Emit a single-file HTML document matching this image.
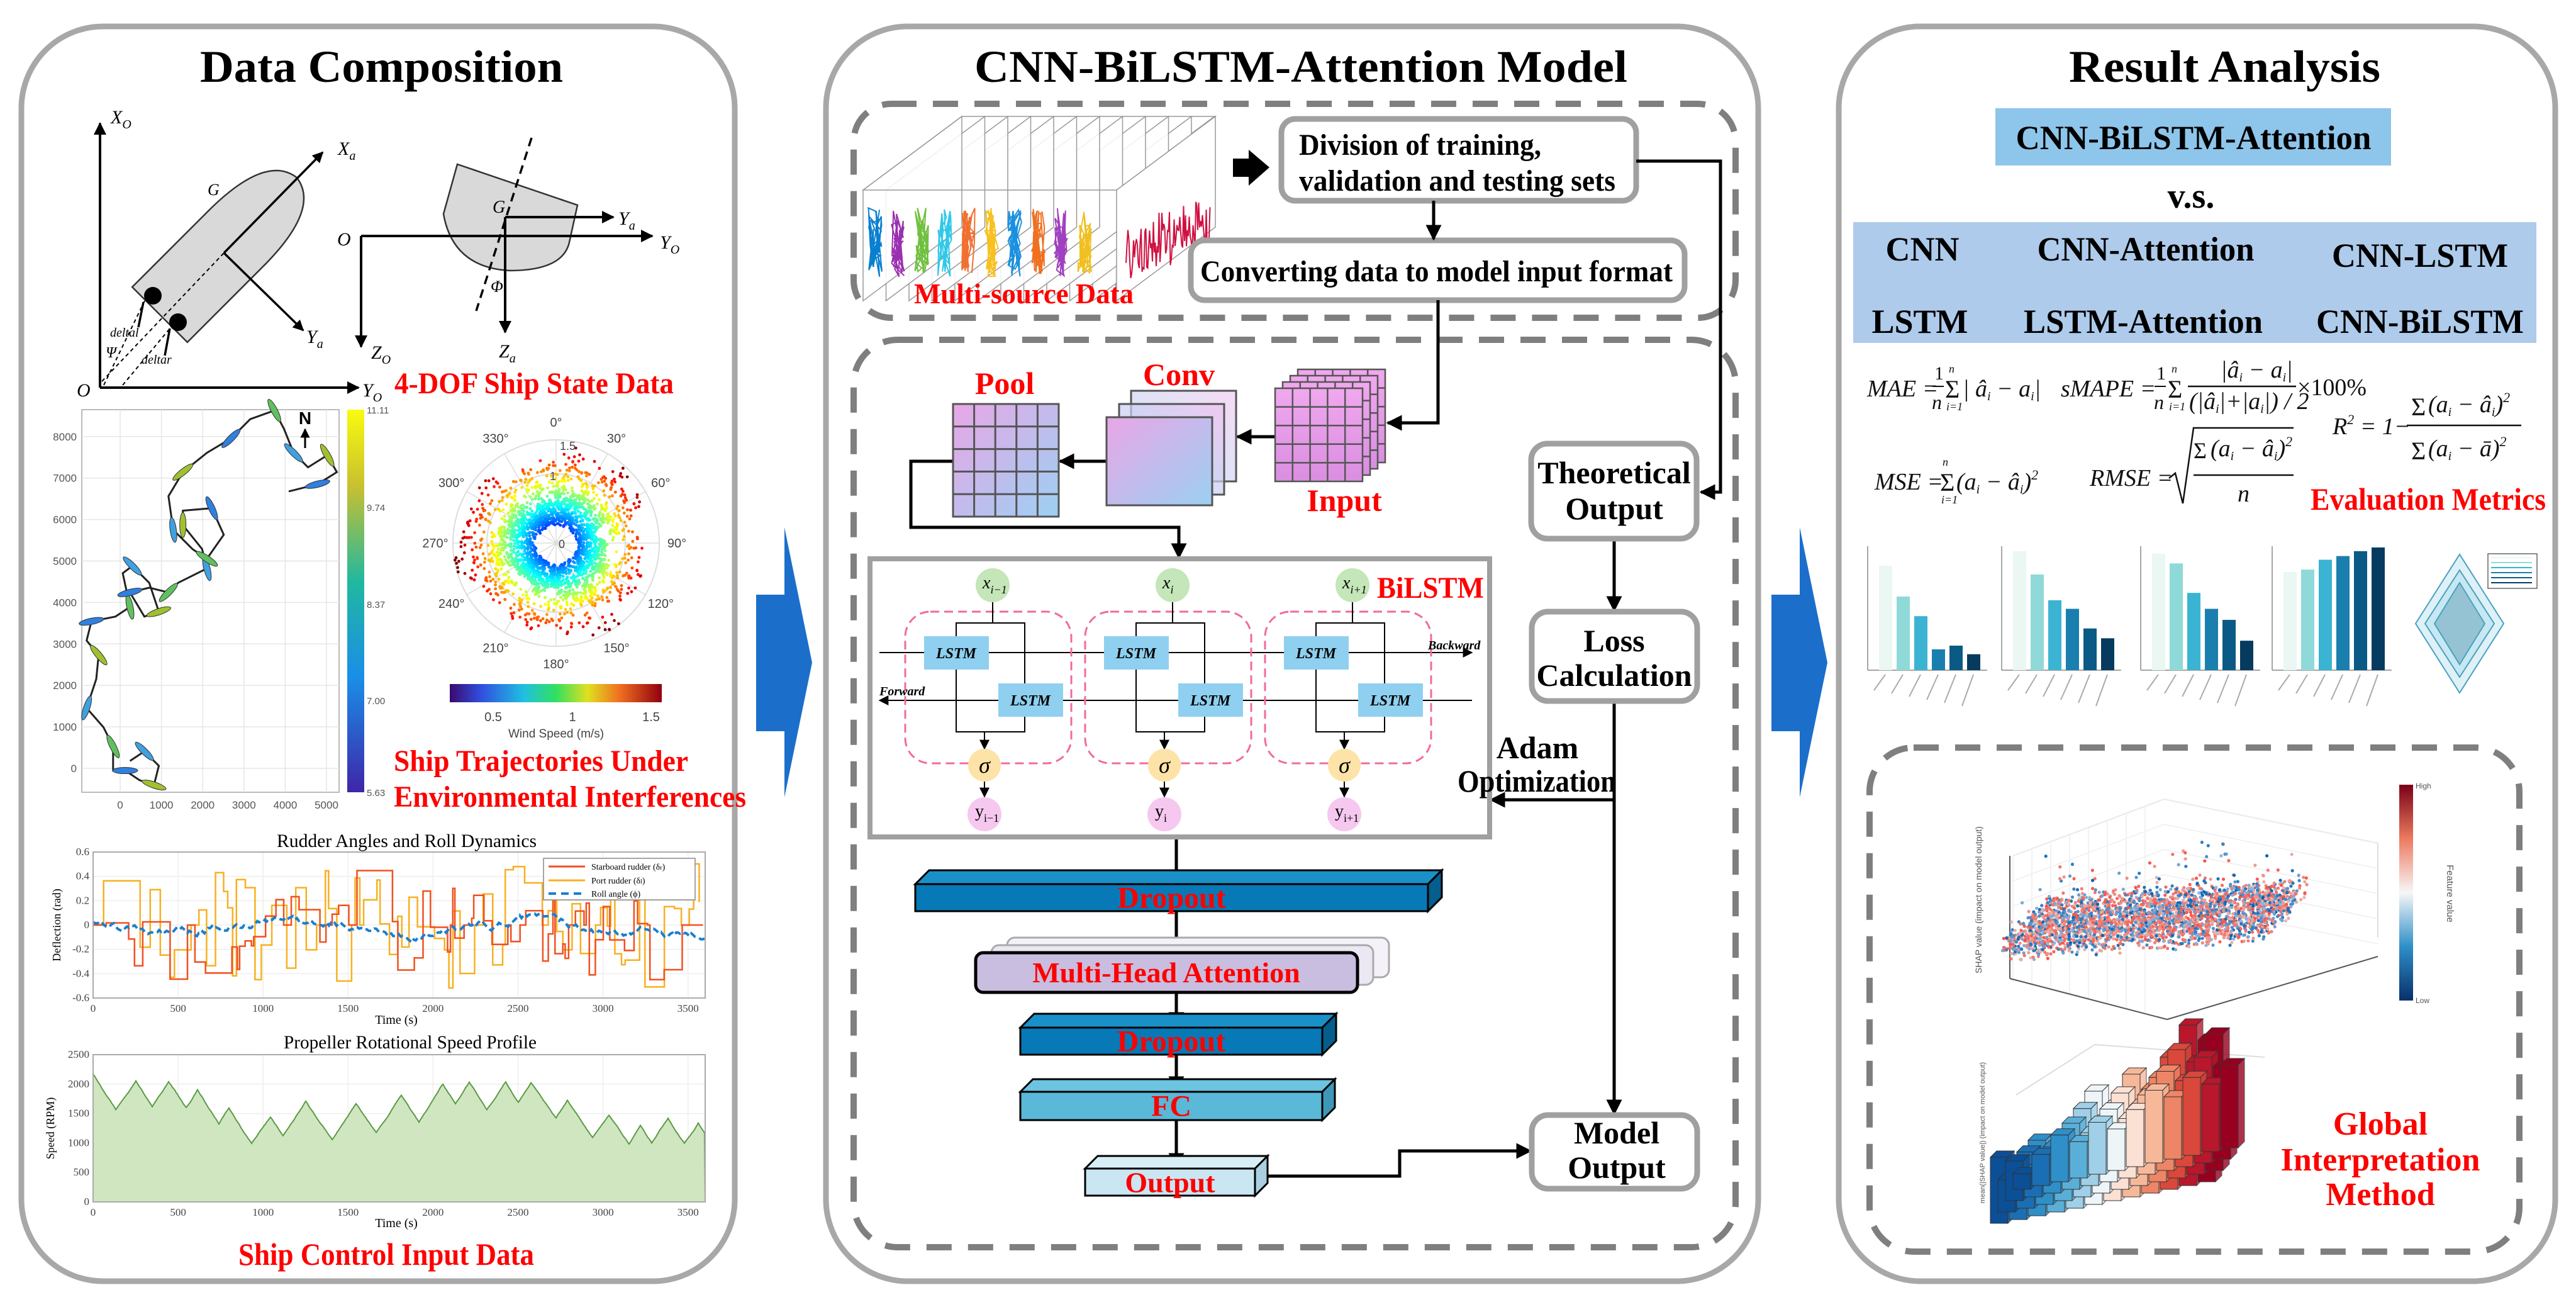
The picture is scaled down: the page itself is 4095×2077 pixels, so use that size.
<!DOCTYPE html>
<html><head><meta charset="utf-8"><style>
html,body{margin:0;padding:0;background:#fff;}
svg{display:block;}
.t{font-family:"Liberation Serif",serif;font-weight:bold;}
.r{fill:#ff0000;}
.m{font-family:"Liberation Serif",serif;font-style:italic;}
.s{font-family:"Liberation Sans",sans-serif;}
</style></head><body>
<svg id="sv" xmlns="http://www.w3.org/2000/svg" width="4095" height="2077" viewBox="0 0 4095 2077">
<defs>
<marker id="ah" viewBox="0 0 10 10" refX="9" refY="5" markerWidth="5" markerHeight="5" orient="auto"><path d="M0,0 L10,5 L0,10 z" fill="#000"/></marker>
<marker id="ahs" viewBox="0 0 10 10" refX="9" refY="5" markerWidth="8" markerHeight="8" orient="auto"><path d="M0,0 L10,5 L0,10 z" fill="#000"/></marker>
<linearGradient id="gp" x1="0" y1="0" x2="1" y2="1"><stop offset="0" stop-color="#e9a6e6"/><stop offset="1" stop-color="#9cd0f2"/></linearGradient>
<linearGradient id="gc" x1="1" y1="0" x2="0" y2="1"><stop offset="0" stop-color="#efc2ee"/><stop offset="1" stop-color="#a6dcf5"/></linearGradient>
<linearGradient id="gi" x1="0" y1="0" x2="0" y2="1"><stop offset="0" stop-color="#f0a8ee"/><stop offset="1" stop-color="#d98ee0"/></linearGradient>
<linearGradient id="jet" x1="0" y1="0" x2="1" y2="0"><stop offset="0" stop-color="#3a0a6e"/><stop offset="0.15" stop-color="#3050e0"/><stop offset="0.35" stop-color="#20c0e0"/><stop offset="0.5" stop-color="#30e060"/><stop offset="0.65" stop-color="#e0e020"/><stop offset="0.8" stop-color="#f07020"/><stop offset="1" stop-color="#900010"/></linearGradient>
<linearGradient id="parula" x1="0" y1="1" x2="0" y2="0"><stop offset="0" stop-color="#3e26a8"/><stop offset="0.3" stop-color="#1a8ee8"/><stop offset="0.55" stop-color="#20b8a0"/><stop offset="0.8" stop-color="#c8c030"/><stop offset="1" stop-color="#f9fb0e"/></linearGradient>
<linearGradient id="rdbu" x1="0" y1="1" x2="0" y2="0"><stop offset="0" stop-color="#08306b"/><stop offset="0.25" stop-color="#2f8fc8"/><stop offset="0.5" stop-color="#f7f7f7"/><stop offset="0.75" stop-color="#ec7a5e"/><stop offset="1" stop-color="#7a0018"/></linearGradient>
</defs>

<rect x="34" y="42" width="1134" height="1994" rx="130" fill="none" stroke="#a8a8a8" stroke-width="9"/>
<rect x="1313" y="42" width="1482" height="1994" rx="130" fill="none" stroke="#a8a8a8" stroke-width="9"/>
<rect x="2923" y="42" width="1139" height="1994" rx="130" fill="none" stroke="#a8a8a8" stroke-width="9"/>

<polygon points="1202,945 1247,945 1247,838 1291,1053 1247,1267 1247,1162 1202,1162" fill="#1b6fcb"/>
<polygon points="2816,945 2861,945 2861,838 2905,1053 2861,1267 2861,1162 2816,1162" fill="#1b6fcb"/>

<text class="t" x="318" y="130" font-size="72" textLength="577" lengthAdjust="spacingAndGlyphs">Data Composition</text>
<text class="t" x="1549" y="130" font-size="72" textLength="1038" lengthAdjust="spacingAndGlyphs">CNN-BiLSTM-Attention Model</text>
<text class="t" x="3289" y="130" font-size="72" textLength="495" lengthAdjust="spacingAndGlyphs">Result Analysis</text>

<!-- LEFT -->
<g stroke="#000" stroke-width="4" fill="none">
<line x1="159" y1="616" x2="159" y2="196" marker-end="url(#ah)"/>
<line x1="159" y1="616" x2="570" y2="616" marker-end="url(#ah)"/>
</g>
<path d="M0,-62 L170,-62 Q300,-62 308,0 Q300,62 170,62 L0,62 Z" transform="translate(254,500) rotate(-45)" fill="#d9d9d9" stroke="#333" stroke-width="2.5"/>
<g stroke="#000" stroke-width="3.5" fill="none">
<line x1="356" y1="402" x2="513" y2="242" marker-end="url(#ah)"/>
<line x1="356" y1="402" x2="482" y2="525" marker-end="url(#ah)"/>
<line x1="228" y1="480" x2="220" y2="520"/><line x1="270" y1="522" x2="262" y2="565"/>
</g>
<g stroke="#000" stroke-width="2" stroke-dasharray="6 5" fill="none">
<line x1="162" y1="606" x2="356" y2="402"/><line x1="165" y1="612" x2="230" y2="478"/><line x1="195" y1="612" x2="270" y2="522"/>
</g>
<circle cx="243" cy="470" r="14"/><circle cx="283" cy="512" r="14"/>
<g class="m" font-size="30">
<text x="176" y="196">X<tspan font-size="20" dy="8">O</tspan></text>
<text x="537" y="246">X<tspan font-size="20" dy="8">a</tspan></text>
<text x="487" y="545">Y<tspan font-size="20" dy="8">a</tspan></text>
<text x="122" y="630">O</text>
<text x="576" y="630">Y<tspan font-size="20" dy="8">O</tspan></text>
<text x="330" y="310" font-size="26">G</text>
<text x="175" y="535" font-size="20">deltal</text>
<text x="225" y="578" font-size="20">deltar</text>
<text x="168" y="568" font-size="24">Ψ</text>
</g>
<path d="M727,261 L918,326 L905,385 Q895,430 810,430 Q720,425 705,340 Z" fill="#d9d9d9" stroke="#333" stroke-width="2.5"/>
<g stroke="#000" stroke-width="4" fill="none">
<line x1="574" y1="375" x2="1037" y2="375" marker-end="url(#ah)"/>
<line x1="574" y1="375" x2="574" y2="551" marker-end="url(#ah)"/>
<line x1="803" y1="345" x2="975" y2="345" marker-end="url(#ah)"/>
<line x1="803" y1="345" x2="803" y2="528" marker-end="url(#ah)"/>
<line x1="845" y1="219" x2="757" y2="494" stroke-dasharray="14 9" stroke-width="3.5"/>
</g>
<g class="m" font-size="30">
<text x="783" y="338" font-size="28">G</text>
<text x="983" y="357">Y<tspan font-size="20" dy="8">a</tspan></text>
<text x="1049" y="395">Y<tspan font-size="20" dy="8">O</tspan></text>
<text x="536" y="390">O</text>
<text x="590" y="570">Z<tspan font-size="20" dy="8">O</tspan></text>
<text x="793" y="568">Z<tspan font-size="20" dy="8">a</tspan></text>
<text x="780" y="464" font-size="26">Φ</text>
</g>
<text class="t r" x="627" y="625" font-size="48" textLength="444" lengthAdjust="spacingAndGlyphs">4-DOF Ship State Data</text>

<rect x="130" y="651" width="409" height="608" fill="#fff" stroke="#bbb" stroke-width="2"/>
<g id="trgrid" stroke="#e6e6e6" stroke-width="1.5"></g>
<path id="traj" fill="none" stroke="#222" stroke-width="3"/>
<g id="ships"></g>
<rect x="552" y="651" width="27" height="608" fill="url(#parula)"/>
<g class="s" font-size="15" fill="#555">
<text x="583" y="657">11.11</text><text x="583" y="812">9.74</text><text x="583" y="966">8.37</text><text x="583" y="1119">7.00</text><text x="583" y="1265">5.63</text>
</g>
<g class="s" font-size="17" fill="#555" text-anchor="end" id="trylab"></g>
<g class="s" font-size="17" fill="#555" text-anchor="middle" id="trxlab"></g>
<text class="s" x="485" y="674" font-size="28" font-weight="bold" text-anchor="middle">N</text>
<line x1="485" y1="712" x2="485" y2="682" stroke="#000" stroke-width="3" marker-end="url(#ah)"/>

<g id="polar"></g>
<rect x="715" y="1087" width="337" height="29" fill="url(#jet)"/>
<g class="s" font-size="20" fill="#444" text-anchor="middle">
<text x="784" y="1146">0.5</text><text x="910" y="1146">1</text><text x="1035" y="1146">1.5</text>
<text x="884" y="1172" font-size="19">Wind Speed (m/s)</text>
</g>
<text class="t r" x="626" y="1225" font-size="48" textLength="468" lengthAdjust="spacingAndGlyphs">Ship Trajectories  Under</text>
<text class="t r" x="626" y="1282" font-size="48" textLength="560" lengthAdjust="spacingAndGlyphs">Environmental Interferences</text>

<text class="t" x="440" y="1346" font-size="30" textLength="413" lengthAdjust="spacingAndGlyphs" style="font-weight:normal">Rudder Angles and Roll Dynamics</text>
<g id="rud"></g>
<rect x="148" y="1354" width="973" height="232" fill="none" stroke="#aaa" stroke-width="2"/>
<rect x="864" y="1364" width="241" height="66" fill="#fff" stroke="#888" stroke-width="1.5"/>
<line x1="872" y1="1377" x2="930" y2="1377" stroke="#f05020" stroke-width="3"/>
<line x1="872" y1="1399" x2="930" y2="1399" stroke="#f8b020" stroke-width="3"/>
<line x1="872" y1="1420" x2="930" y2="1420" stroke="#1a7fcf" stroke-width="4" stroke-dasharray="12 8"/>
<g class="t" font-size="14" style="font-weight:normal"><text x="940" y="1382">Starboard rudder (δ<tspan font-size="10">r</tspan>)</text><text x="940" y="1404">Port rudder (δ<tspan font-size="10">l</tspan>)</text><text x="940" y="1425">Roll angle (ϕ)</text></g>
<text class="t" x="630" y="1627" font-size="20" style="font-weight:normal" text-anchor="middle">Time (s)</text>
<text class="t" x="96" y="1470" font-size="18" style="font-weight:normal" text-anchor="middle" transform="rotate(-90 96 1470)">Deflection (rad)</text>
<text class="t" x="451" y="1666" font-size="30" style="font-weight:normal" textLength="402" lengthAdjust="spacingAndGlyphs">Propeller Rotational Speed Profile</text>
<g id="prop"></g>
<rect x="148" y="1676" width="973" height="234" fill="none" stroke="#aaa" stroke-width="2"/>
<text class="t" x="630" y="1950" font-size="20" style="font-weight:normal" text-anchor="middle">Time (s)</text>
<text class="t" x="86" y="1793" font-size="18" style="font-weight:normal" text-anchor="middle" transform="rotate(-90 86 1793)">Speed (RPM)</text>
<text class="t r" x="379" y="2010" font-size="50" textLength="470" lengthAdjust="spacingAndGlyphs">Ship Control Input Data</text>

<!-- MIDDLE -->
<rect x="1357" y="165" width="1402" height="340" rx="60" fill="none" stroke="#7f7f7f" stroke-width="10" stroke-dasharray="40 26"/>
<rect x="1357" y="540" width="1402" height="1442" rx="70" fill="none" stroke="#7f7f7f" stroke-width="10" stroke-dasharray="40 26"/>
<g id="cube"></g>
<text class="t r" x="1453" y="482" font-size="46" textLength="349" lengthAdjust="spacingAndGlyphs">Multi-source Data</text>
<polygon points="1960,252 1985,252 1985,238 2018,266 1985,295 1985,281 1960,281" fill="#000"/>
<rect x="2037" y="189" width="564" height="130" rx="22" fill="#fff" stroke="#a0a0a0" stroke-width="9"/>
<text class="t" x="2065" y="246" font-size="48" textLength="385" lengthAdjust="spacingAndGlyphs">Division of training,</text>
<text class="t" x="2065" y="303" font-size="48" textLength="503" lengthAdjust="spacingAndGlyphs">validation and testing sets</text>
<rect x="1893" y="382" width="785" height="95" rx="22" fill="#fff" stroke="#a0a0a0" stroke-width="9"/>
<text class="t" x="1908" y="447" font-size="48" textLength="751" lengthAdjust="spacingAndGlyphs">Converting data to model input format</text>
<g stroke="#000" stroke-width="5" fill="none">
<line x1="2279" y1="319" x2="2279" y2="380" marker-end="url(#ah)"/>
<polyline points="2601,256 2735,256 2735,782 2704,782" marker-end="url(#ah)"/>
<polyline points="2286,477 2286,672 2206,672" marker-end="url(#ah)"/>
<line x1="2027" y1="694" x2="1967" y2="694" marker-end="url(#ah)"/>
<line x1="1759" y1="733" x2="1685" y2="733" marker-end="url(#ah)"/>
<polyline points="1515,733 1448,733 1448,838 1874,838 1874,886" marker-end="url(#ah)"/>
<line x1="2566" y1="856" x2="2566" y2="970" marker-end="url(#ah)"/>
<line x1="2566" y1="1114" x2="2566" y2="1770" marker-end="url(#ah)"/>
<line x1="2566" y1="1271" x2="2370" y2="1271" marker-end="url(#ah)"/>
<polyline points="2015,1869 2225,1869 2225,1829 2433,1829" marker-end="url(#ah)"/>
<line x1="1870" y1="1330" x2="1870" y2="1405" marker-end="url(#ah)"/>
<line x1="1870" y1="1448" x2="1870" y2="1512" marker-end="url(#ah)"/>
<line x1="1870" y1="1577" x2="1870" y2="1631" marker-end="url(#ah)"/>
<line x1="1870" y1="1676" x2="1870" y2="1733" marker-end="url(#ah)"/>
<line x1="1870" y1="1780" x2="1870" y2="1855" marker-end="url(#ah)"/>
</g>
<g id="pool"></g>
<text class="t r" x="1597" y="626" font-size="50" text-anchor="middle">Pool</text>
<rect x="1798" y="621" width="167" height="144" fill="url(#gc)" fill-opacity="0.6" stroke="#555" stroke-width="3"/>
<rect x="1779" y="642" width="167" height="144" fill="url(#gc)" fill-opacity="0.7" stroke="#555" stroke-width="3"/>
<rect x="1759" y="663" width="168" height="140" fill="url(#gp)" stroke="#555" stroke-width="3"/>
<text class="t r" x="1874" y="612" font-size="50" text-anchor="middle">Conv</text>
<g id="inp"></g>
<text class="t r" x="2137" y="812" font-size="50" text-anchor="middle">Input</text>
<rect x="2434" y="705" width="263" height="151" rx="26" fill="#fff" stroke="#a0a0a0" stroke-width="9"/>
<text class="t" x="2566" y="768" font-size="50" text-anchor="middle">Theoretical</text>
<text class="t" x="2566" y="825" font-size="50" text-anchor="middle">Output</text>
<rect x="2435" y="972" width="263" height="142" rx="26" fill="#fff" stroke="#a0a0a0" stroke-width="9"/>
<text class="t" x="2566" y="1035" font-size="50" text-anchor="middle">Loss</text>
<text class="t" x="2566" y="1090" font-size="50" text-anchor="middle">Calculation</text>
<rect x="2435" y="1772" width="263" height="117" rx="26" fill="#fff" stroke="#a0a0a0" stroke-width="9"/>
<text class="t" x="2570" y="1817" font-size="50" text-anchor="middle">Model</text>
<text class="t" x="2570" y="1872" font-size="50" text-anchor="middle">Output</text>
<rect x="1383" y="888" width="985" height="442" fill="#fff" stroke="#a0a0a0" stroke-width="8"/>
<g id="bil"></g>
<text class="t r" x="2189" y="950" font-size="48" textLength="170" lengthAdjust="spacingAndGlyphs">BiLSTM</text>
<text class="t" x="2444" y="1205" font-size="50" text-anchor="middle">Adam</text>
<text class="t" x="2317" y="1258" font-size="50" textLength="252" lengthAdjust="spacingAndGlyphs">Optimization</text>
<g id="layers"></g>

<!-- RIGHT -->
<rect x="3172" y="172" width="629" height="91" fill="#8ec5ea"/>
<text class="t" x="3487" y="237" font-size="54" text-anchor="middle" textLength="565" lengthAdjust="spacingAndGlyphs">CNN-BiLSTM-Attention</text>
<text class="t" x="3483" y="330" font-size="56" text-anchor="middle">v.s.</text>
<rect x="2946" y="353" width="1086" height="192" fill="#aecbeb"/>
<g class="t" font-size="54" text-anchor="middle">
<text x="3056" y="414">CNN</text><text x="3411" y="414" textLength="345" lengthAdjust="spacingAndGlyphs">CNN-Attention</text><text x="3847" y="424" textLength="280" lengthAdjust="spacingAndGlyphs">CNN-LSTM</text>
<text x="3052" y="529">LSTM</text><text x="3407" y="529" textLength="380" lengthAdjust="spacingAndGlyphs">LSTM-Attention</text><text x="3847" y="529" textLength="330" lengthAdjust="spacingAndGlyphs">CNN-BiLSTM</text>
</g>
<g class="m" font-size="38" fill="#111">
<text x="2968" y="630">MAE = </text>
<text x="3075" y="603" font-size="30" style="font-style:normal">1</text><line x1="3072" y1="614" x2="3090" y2="614" stroke="#111" stroke-width="2"/><text x="3071" y="650" font-size="32">n</text>
<text x="3092" y="632" font-size="40" style="font-style:normal">Σ</text><text x="3098" y="592" font-size="18">n</text><text x="3094" y="652" font-size="18">i=1</text>
<text x="3120" y="630">| â<tspan font-size="20" dy="6">i</tspan><tspan dy="-6"> − a</tspan><tspan font-size="20" dy="6">i</tspan><tspan dy="-6">|</tspan></text>
<text x="3276" y="630">sMAPE = </text>
<text x="3428" y="603" font-size="30" style="font-style:normal">1</text><line x1="3425" y1="614" x2="3443" y2="614" stroke="#111" stroke-width="2"/><text x="3424" y="650" font-size="32">n</text>
<text x="3446" y="632" font-size="40" style="font-style:normal">Σ</text><text x="3452" y="592" font-size="18">n</text><text x="3448" y="652" font-size="18">i=1</text>
<text x="3530" y="600">|â<tspan font-size="20" dy="6">i</tspan><tspan dy="-6"> − a</tspan><tspan font-size="20" dy="6">i</tspan><tspan dy="-6">|</tspan></text>
<line x1="3478" y1="614" x2="3650" y2="614" stroke="#111" stroke-width="2.5"/>
<text x="3480" y="650">(|â<tspan font-size="20" dy="6">i</tspan><tspan dy="-6">|+|a</tspan><tspan font-size="20" dy="6">i</tspan><tspan dy="-6">|) / 2</tspan></text>
<text x="3652" y="628" style="font-style:normal">×100%</text>
<text x="3708" y="690">R<tspan font-size="22" dy="-16">2</tspan><tspan dy="16"> = 1−</tspan></text>
<text x="3833" y="660" font-size="40" style="font-style:normal">Σ</text><text x="3860" y="655">(a<tspan font-size="20" dy="6">i</tspan><tspan dy="-6"> − â</tspan><tspan font-size="20" dy="6">i</tspan><tspan dy="-6">)</tspan><tspan font-size="22" dy="-16">2</tspan></text>
<line x1="3826" y1="676" x2="4008" y2="676" stroke="#111" stroke-width="2.5"/>
<text x="3833" y="730" font-size="40" style="font-style:normal">Σ</text><text x="3860" y="725">(a<tspan font-size="20" dy="6">i</tspan><tspan dy="-6"> − ā)</tspan><tspan font-size="22" dy="-16">2</tspan></text>
<text x="2980" y="778">MSE = </text>
<text x="3084" y="780" font-size="40" style="font-style:normal">Σ</text><text x="3088" y="740" font-size="18">n</text><text x="3086" y="800" font-size="18">i=1</text>
<text x="3110" y="778">(a<tspan font-size="20" dy="6">i</tspan><tspan dy="-6"> − â</tspan><tspan font-size="20" dy="6">i</tspan><tspan dy="-6">)</tspan><tspan font-size="22" dy="-16">2</tspan></text>
<text x="3322" y="772">RMSE = </text>
<path d="M3448,760 L3458,752 L3470,800 L3487,680 L3646,680" fill="none" stroke="#111" stroke-width="2.5"/>
<text x="3487" y="728" font-size="36" style="font-style:normal">Σ</text><text x="3514" y="725">(a<tspan font-size="20" dy="6">i</tspan><tspan dy="-6"> − â</tspan><tspan font-size="20" dy="6">i</tspan><tspan dy="-6">)</tspan><tspan font-size="22" dy="-16">2</tspan></text>
<line x1="3487" y1="755" x2="3646" y2="755" stroke="#111" stroke-width="2.5"/>
<text x="3557" y="797">n</text>
</g>
<text class="t r" x="3673" y="810" font-size="50" textLength="374" lengthAdjust="spacingAndGlyphs">Evaluation Metrics</text>
<g id="bars"></g>
<rect x="2972" y="1188" width="1033" height="801" rx="70" fill="none" stroke="#7f7f7f" stroke-width="10" stroke-dasharray="40 26"/>
<g id="shap"></g>
<rect x="3814" y="1247" width="22" height="343" fill="url(#rdbu)"/>
<g class="s" font-size="12" fill="#555"><text x="3840" y="1253">High</text><text x="3840" y="1594">Low</text>
<text x="3890" y="1420" font-size="15" transform="rotate(90 3890 1420)" text-anchor="middle">Feature value</text>
<text x="3150" y="1430" font-size="14" transform="rotate(-90 3150 1430)" text-anchor="middle">SHAP value (impact on model output)</text>
<text x="3155" y="1800" font-size="11" transform="rotate(-90 3155 1800)" text-anchor="middle">mean(|SHAP value|) (impact on model output)</text></g>
<g id="bar3"></g>
<g class="t r" font-size="52" text-anchor="middle">
<text x="3784" y="1803">Global</text><text x="3784" y="1860">Interpretation</text><text x="3784" y="1915">Method</text>
</g>
</svg>
<script>
(function(){
var NS="http://www.w3.org/2000/svg";
var seed=12345;function rnd(){seed=(seed*16807)%2147483647;return (seed-1)/2147483646;}
function el(p,tag,a){var e=document.createElementNS(NS,tag);for(var k in a)e.setAttribute(k,a[k]);p.appendChild(e);return e;}
function g(id){return document.getElementById(id);}
function jet(t){t=Math.max(0,Math.min(1,t));var r,gg,b;
 r=Math.min(1,Math.max(0,1.5-Math.abs(4*t-3)));gg=Math.min(1,Math.max(0,1.5-Math.abs(4*t-2)));b=Math.min(1,Math.max(0,1.5-Math.abs(4*t-1)));
 return "rgb("+(r*255|0)+","+(gg*255|0)+","+(b*255|0)+")";}
var tg=g("trgrid");
for(var i=0;i<=5;i++){var x=191+i*65.6;el(tg,"line",{x1:x,y1:651,x2:x,y2:1259});}
for(var i=0;i<=8;i++){var y=1221-i*65.9;el(tg,"line",{x1:130,y1:y,x2:539,y2:y});el(g("trylab"),"text",{x:122,y:y+6}).textContent=(i*1000)+"";}
for(var i=0;i<=5;i++){el(g("trxlab"),"text",{x:191+i*65.6,y:1285}).textContent=(i*1000)+"";}
var zp=[[270,1450],[300,1430],[330,1460],[320,1500],[290,1490],[260,1470],[235,1470],[235,1420],[215,1380],[180,1340],[200,1280],[205,1230],[180,1200],[190,1160],[240,1150],[270,1130],[255,1060],[275,1045],[310,1080],[330,1140],[300,1150],[270,1100],[310,1090],[350,1100],[370,1080],[430,1050],[420,1010],[380,960],[380,930],[440,925],[465,980],[430,1030],[400,1010],[360,970],[350,900],[380,850],[430,810],[480,780],[520,740],[570,722],[590,760],[610,810],[640,840],[680,815],[700,850],[660,875],[600,890]];
var d="";zp.forEach(function(p,i){var x=p[0]*0.765,y=p[1]*0.765+100;d+=(i?"L":"M")+x.toFixed(1)+","+y.toFixed(1);});
g("traj").setAttribute("d",d);
var sc=["#30c0c0","#40a0e0","#f0c020","#a0c030","#20b0a0","#3080e0","#e0d020","#60c060"];
for(var i=1;i<zp.length-1;i+=2){var p=zp[i],q=zp[i+1];var ang=Math.atan2(q[1]-p[1],q[0]-p[0])*180/Math.PI;
 el(g("ships"),"ellipse",{cx:p[0]*0.765,cy:p[1]*0.765+100,rx:20,ry:5,fill:sc[i%8],stroke:"#333","stroke-width":1,transform:"rotate("+ang+" "+p[0]*0.765+" "+(p[1]*0.765+100)+")"});}
var pg=g("polar"),cx=884,cy=863;
[55,110,164].forEach(function(r){el(pg,"circle",{cx:cx,cy:cy,r:r,fill:"none",stroke:"#ddd","stroke-width":2});});
for(var a=0;a<360;a+=30){var rr=a*Math.PI/180;el(pg,"line",{x1:cx,y1:cy,x2:cx+164*Math.sin(rr),y2:cy-164*Math.cos(rr),stroke:"#ddd","stroke-width":1.5});
 var t=el(pg,"text",{x:cx+192*Math.sin(rr),y:cy-192*Math.cos(rr)+7,"font-size":20,"text-anchor":"middle",fill:"#444","font-family":"Liberation Sans, sans-serif"});t.textContent=a+"°";}
for(var i=0;i<2600;i++){var a=rnd()*2*Math.PI;var base=0.9+0.2*Math.sin(a*3)+0.15*Math.cos(a*7)+0.1*Math.sin(a*13);
 var r=0.3+Math.pow(rnd(),0.8)*0.55*base; if(rnd()<0.25) r=0.8+rnd()*0.6*base;
 if(Math.cos(a)>0.5&&rnd()<0.5)r*=0.85;
 var pr=r*109;if(pr>164)pr=158+rnd()*6;el(pg,"circle",{cx:cx+pr*Math.sin(a),cy:cy-pr*Math.cos(a),r:2.4,fill:jet(r/1.45)});}
el(pg,"text",{x:cx+4,y:cy+8,"font-size":18,fill:"#444","font-family":"Liberation Sans, sans-serif"}).textContent="0";
el(pg,"text",{x:cx+6,y:cy-148,"font-size":18,fill:"#444","font-family":"Liberation Sans, sans-serif"}).textContent="1.5";
el(pg,"text",{x:cx-10,y:cy-100,"font-size":18,fill:"#444","font-family":"Liberation Sans, sans-serif"}).textContent="1";
var rg=g("rud");
function ylab(p,x,y,s){var t=el(p,"text",{x:x,y:y,"font-size":17,"text-anchor":"end",fill:"#444","font-family":"Liberation Serif, serif"});t.textContent=s;}
function xlab(p,x,y,s){var t=el(p,"text",{x:x,y:y,"font-size":17,"text-anchor":"middle",fill:"#444","font-family":"Liberation Serif, serif"});t.textContent=s;}
var yt=["0.6","0.4","0.2","0","-0.2","-0.4","-0.6"];
for(var i=0;i<=6;i++){var y=1354+i*232/6;el(rg,"line",{x1:148,y1:y,x2:1121,y2:y,stroke:"#eee","stroke-width":1.5});ylab(rg,142,y+5,yt[i]);}
for(var i=0;i<=7;i++){var x=148+i*135.1;el(rg,"line",{x1:x,y1:1354,x2:x,y2:1586,stroke:"#eee","stroke-width":1.5});xlab(rg,x,1608,(i*500)+"");}
function ymap(v){return 1470-v*193;}
function stepsig(amp,p){var d="M148,"+ymap(0),x=148,v=0;while(x<1121){var w=3+rnd()*14;if(rnd()<p)v=(rnd()*2-1)*amp;else if(rnd()<0.3)v=0;d+="H"+Math.min(1121,x).toFixed(1)+"V"+ymap(v).toFixed(1);x+=w;}return d;}
el(rg,"path",{d:stepsig(0.53,0.6),fill:"none",stroke:"#f8b020","stroke-width":2.5});
el(rg,"path",{d:stepsig(0.45,0.5),fill:"none",stroke:"#f05020","stroke-width":2.5});
var d="",v=0;for(var x=148;x<=1121;x+=3){v=v*0.9+(rnd()-0.5)*0.05;var vv=v*0.9+0.05*Math.sin(x/60);d+=(x==148?"M":"L")+x+","+ymap(vv-0.02).toFixed(1);}
el(rg,"path",{d:d,fill:"none",stroke:"#1a7fcf","stroke-width":4,"stroke-dasharray":"10 6"});
var pp=g("prop");
for(var i=0;i<=5;i++){var y=1676+i*234/5;el(pp,"line",{x1:148,y1:y,x2:1121,y2:y,stroke:"#eee","stroke-width":1.5});ylab(pp,142,y+5,(2500-i*500)+"");}
for(var i=0;i<=7;i++){var x=148+i*135.1;el(pp,"line",{x1:x,y1:1676,x2:x,y2:1910,stroke:"#eee","stroke-width":1.5});xlab(pp,x,1932,(i*500)+"");}
var d="M148,1910",val=2200,tgt=1600,dir=-1;
for(var x=148;x<=1121;x+=2){ if((dir>0&&val>=tgt)||(dir<0&&val<=tgt)){dir=-dir;tgt=dir>0?Math.min(2020,val+250+rnd()*450):Math.max(1000,val-250-rnd()*450);}
 val+=dir*(25+rnd()*15);d+="L"+x+","+(1910-val*0.0936).toFixed(1);}
d+="L1121,1910Z";el(pp,"path",{d:d,fill:"#d0e6c0",stroke:"#5a9a44","stroke-width":2});
var cg=g("cube");var cols=["#0a7fd0","#9a30b0","#70c040","#30c8e8","#f07030","#f8c020","#1a90e0","#f07020","#a040c0","#f0c020"];
for(var k=11;k>=0;k--){var x0=1372+k*36.5;
 el(cg,"polygon",{points:x0+",302 "+(x0+157)+",185 "+(x0+157)+",361 "+x0+",478",fill:"#fff",stroke:"#999","stroke-width":1.5,"fill-opacity":0.85});}
el(cg,"polygon",{points:"1372,302 1529,185 1932,185 1775,302",fill:"none",stroke:"#999","stroke-width":1.5});
el(cg,"polygon",{points:"1775,302 1932,185 1932,361 1775,478",fill:"#fff",stroke:"#999","stroke-width":1.5});
for(var k=0;k<10;k++){var x0=1380+k*37,c=cols[k];var d="";for(var j=0;j<40;j++){var y=330+rnd()*110;d+=(j?"L":"M")+(x0+rnd()*22).toFixed(1)+","+y.toFixed(1);}el(cg,"path",{d:d,fill:"none",stroke:c,"stroke-width":2});}
var d="";for(var j=0;j<90;j++){d+=(j?"L":"M")+(1790+j*1.5).toFixed(1)+","+(400-j*0.5+(rnd()-0.5)*90).toFixed(1);}el(cg,"path",{d:d,fill:"none",stroke:"#d01040","stroke-width":2});
function grid(p,x,y,w,h,n,fill,sw){el(p,"rect",{x:x,y:y,width:w,height:h,fill:fill,stroke:"#555","stroke-width":sw});for(var i=1;i<n;i++){el(p,"line",{x1:x+i*w/n,y1:y,x2:x+i*w/n,y2:y+h,stroke:"#555","stroke-width":sw});el(p,"line",{x1:x,y1:y+i*h/n,x2:x+w,y2:y+i*h/n,stroke:"#555","stroke-width":sw});}}
grid(g("pool"),1515,642,168,179,5,"url(#gp)",3);
for(var k=3;k>=0;k--)grid(g("inp"),2027+k*12,617-k*10,139,148,5,"url(#gi)",2.5);
var bg=g("bil"),cxs=[1580,1866,2152];
var xl=["x<tspan font-size='18' dy='8'>i−1</tspan>","x<tspan font-size='18' dy='8'>i</tspan>","x<tspan font-size='18' dy='8'>i+1</tspan>"];
var yl=["y<tspan font-size='18' dy='8'>i−1</tspan>","y<tspan font-size='18' dy='8'>i</tspan>","y<tspan font-size='18' dy='8'>i+1</tspan>"];
el(bg,"line",{x1:1398,y1:1037,x2:2340,y2:1037,stroke:"#000","stroke-width":2,"marker-end":"url(#ahs)"});
el(bg,"line",{x1:2340,y1:1113,x2:1398,y2:1113,stroke:"#000","stroke-width":2,"marker-end":"url(#ahs)"});
cxs.forEach(function(c,i){
 el(bg,"rect",{x:c-141,y:972,width:264,height:241,rx:40,fill:"none",stroke:"#f06aa0","stroke-width":3,"stroke-dasharray":"14 8"});
 el(bg,"polyline",{points:(c-60)+",1011 "+(c-60)+",990 "+(c+49)+",990 "+(c+49)+",1086",fill:"none",stroke:"#000","stroke-width":2});
 el(bg,"line",{x1:c-2,y1:955,x2:c-2,y2:990,stroke:"#000","stroke-width":2});
 el(bg,"polyline",{points:(c-60)+",1064 "+(c-60)+",1163 "+(c+49)+",1163 "+(c+49)+",1139",fill:"none",stroke:"#000","stroke-width":2});
 el(bg,"line",{x1:c-15,y1:1163,x2:c-15,y2:1190,stroke:"#000","stroke-width":2,"marker-end":"url(#ahs)"});
 el(bg,"line",{x1:c-15,y1:1242,x2:c-15,y2:1266,stroke:"#000","stroke-width":2,"marker-end":"url(#ahs)"});
 el(bg,"rect",{x:c-111,y:1011,width:103,height:53,fill:"#8fd0f0"});
 el(bg,"rect",{x:c+7,y:1086,width:103,height:53,fill:"#8fd0f0"});
 var t=el(bg,"text",{x:c-60,y:1046,"font-size":24,"text-anchor":"middle","font-family":"Liberation Serif, serif","font-style":"italic","font-weight":"bold"});t.textContent="LSTM";
 t=el(bg,"text",{x:c+58,y:1121,"font-size":24,"text-anchor":"middle","font-family":"Liberation Serif, serif","font-style":"italic","font-weight":"bold"});t.textContent="LSTM";
 el(bg,"circle",{cx:c-2,cy:930,r:27,fill:"#c4e6b8"});
 t=el(bg,"text",{x:c-18,y:935,"font-size":28,"font-family":"Liberation Serif, serif","font-style":"italic"});t.innerHTML=xl[i];
 el(bg,"circle",{cx:c-15,cy:1216,r:26,fill:"#fde3a7"});
 t=el(bg,"text",{x:c-15,y:1228,"font-size":36,"text-anchor":"middle","font-family":"Liberation Serif, serif","font-style":"italic"});t.textContent="σ";
 el(bg,"circle",{cx:c-15,cy:1294,r:27,fill:"#f6c8ef"});
 t=el(bg,"text",{x:c-30,y:1298,"font-size":28,"font-family":"Liberation Serif, serif"});t.innerHTML=yl[i];
});
var t=el(bg,"text",{x:2270,y:1032,"font-size":20,"font-family":"Liberation Serif, serif","font-style":"italic","font-weight":"bold"});t.textContent="Backward";
t=el(bg,"text",{x:1398,y:1105,"font-size":20,"font-family":"Liberation Serif, serif","font-style":"italic","font-weight":"bold"});t.textContent="Forward";
var lg=g("layers");
function bar3(x,y,w,h,dd,f,tp,sd,label,fs){
 el(lg,"polygon",{points:x+","+y+" "+(x+dd)+","+(y-dd)+" "+(x+w+dd)+","+(y-dd)+" "+(x+w)+","+y,fill:tp,stroke:"#000","stroke-width":3});
 el(lg,"polygon",{points:(x+w)+","+y+" "+(x+w+dd)+","+(y-dd)+" "+(x+w+dd)+","+(y+h-dd)+" "+(x+w)+","+(y+h),fill:sd,stroke:"#000","stroke-width":3});
 el(lg,"rect",{x:x,y:y,width:w,height:h,fill:f,stroke:"#000","stroke-width":3});
 var t=el(lg,"text",{x:x+w/2,y:y+h/2+16,"font-size":fs,"text-anchor":"middle",fill:"#ff0000","font-family":"Liberation Serif, serif","font-weight":"bold"});t.textContent=label;}
bar3(1455,1405,815,43,22,"#0779b6","#1a90c8","#055e8c","Dropout",48);
el(lg,"rect",{x:1601,y:1490,width:607,height:63,rx:12,fill:"#f4f2f8",stroke:"#aaa","stroke-width":3});
el(lg,"rect",{x:1576,y:1502,width:607,height:63,rx:12,fill:"#ebe7f3",stroke:"#aaa","stroke-width":3});
el(lg,"rect",{x:1551,y:1514,width:607,height:63,rx:12,fill:"#c9bde0",stroke:"#000","stroke-width":5});
t=el(lg,"text",{x:1854,y:1561,"font-size":46,"text-anchor":"middle",fill:"#ff0000","font-family":"Liberation Serif, serif","font-weight":"bold"});t.textContent="Multi-Head Attention";
bar3(1622,1633,480,43,22,"#0779b6","#1a90c8","#055e8c","Dropout",48);
bar3(1622,1735,480,45,20,"#5ab8d8","#6cc4e0","#3f97b8","FC",48);
bar3(1725,1857,270,43,20,"#c9e6f2","#d8eef6","#a9cfe0","Output",46);
var bc=g("bars");var bcol=["#eaf7f3","#8fdad8","#3bb3d3","#1a7fae","#0b5a85","#073a5f"];
var charts=[[2969,[0.85,0.6,0.44,0.17,0.2,0.13]],[3182,[0.97,0.78,0.57,0.5,0.34,0.26]],[3403,[0.95,0.87,0.63,0.5,0.41,0.24]],[3612,[0.8,0.82,0.9,0.93,0.97,1.0]]];
charts.forEach(function(c){var x0=c[0];el(bc,"line",{x1:x0,y1:868,x2:x0,y2:1065,stroke:"#888","stroke-width":1.5});el(bc,"line",{x1:x0,y1:1065,x2:x0+190,y2:1065,stroke:"#888","stroke-width":1.5});
 c[1].forEach(function(v,i){var h=v*195;el(bc,"rect",{x:x0+18+i*28,y:1065-h,width:21,height:h,fill:bcol[i]});
  el(bc,"line",{x1:x0+28+i*28,y1:1072,x2:x0+10+i*28,y2:1072+25+i*5,stroke:"#aaa","stroke-width":2});});});
var rx=3910,ry=991;
[[70,110],[55,85],[40,65]].forEach(function(s,i){el(bc,"polygon",{points:rx+","+(ry-s[1])+" "+(rx+s[0])+","+ry+" "+rx+","+(ry+s[1])+" "+(rx-s[0])+","+ry,fill:i==2?"#3a7f9a":"#9fd8e8","fill-opacity":0.35,stroke:"#4aa0c0","stroke-width":2});});
el(bc,"rect",{x:3955,y:880,width:78,height:55,fill:"#fff",stroke:"#666","stroke-width":1.5});
for(var i=0;i<6;i++)el(bc,"line",{x1:3960,y1:886+i*8,x2:4025,y2:886+i*8,stroke:bcol[i],"stroke-width":2});
var sg=g("shap");
el(sg,"polyline",{points:"3200,1360 3440,1270 3780,1340 3780,1490",fill:"none",stroke:"#ddd","stroke-width":2});
for(var i=0;i<8;i++){var x=3200+i*30;el(sg,"line",{x1:x,y1:1360-i*11,x2:x,y2:1560+i*7,stroke:"#eee","stroke-width":1.5});}
for(var i=0;i<5;i++){el(sg,"line",{x1:3200,y1:1360+i*40,x2:3440,y2:1270+i*40,stroke:"#eee","stroke-width":1.5});el(sg,"line",{x1:3440,y1:1270+i*40,x2:3780,y2:1340+i*40,stroke:"#eee","stroke-width":1.5});}
el(sg,"line",{x1:3195,y1:1555,x2:3445,y2:1620,stroke:"#555","stroke-width":2});
el(sg,"line",{x1:3445,y1:1620,x2:3780,y2:1520,stroke:"#555","stroke-width":2});
el(sg,"line",{x1:3195,y1:1360,x2:3195,y2:1555,stroke:"#555","stroke-width":2});
for(var i=0;i<3000;i++){var u=rnd(),v=rnd();var x=3250+u*420-v*70;var y=1440+v*70-u*30;var z=(rnd()-0.5)*40;if(rnd()<0.06)z-=rnd()*80;
 var b=rnd()<0.45;var sh=0.3+rnd()*0.7;var col=b?"rgb("+((1-sh)*220|0)+","+(100+(1-sh)*120|0)+","+(180+(1-sh)*60|0)+")":"rgb("+(220+sh*30|0)+","+(80+(1-sh)*150|0)+","+(70+(1-sh)*150|0)+")";
 el(sg,"circle",{cx:x.toFixed(1),cy:(y+z).toFixed(1),r:2.6,fill:col});}
var b3=g("bar3");
el(b3,"polyline",{points:"3205,1740 3330,1660 3600,1680",fill:"none",stroke:"#ddd","stroke-width":2});
var bcols=["#0b4f96","#1a6fb4","#2f8fc8","#5aafd8","#9fd0e8","#eef5f8","#fbe0d4","#f7b89a","#ee8566","#d9483b","#b8172c","#98001f"];
for(var r=3;r>=0;r--){for(var c=0;c<12;c++){var h=(45+c*15+((c*7+r*3)%5)*15)*(0.55+0.15*r);var x=3200+c*30-r*12;var y=1890-c*6+r*18;
 var w=28,dd=10;var col=bcols[c];
 el(b3,"polygon",{points:x+","+(y-h)+" "+(x+dd)+","+(y-h-dd)+" "+(x+w+dd)+","+(y-h-dd)+" "+(x+w)+","+(y-h),fill:col,stroke:"#333","stroke-width":1});
 el(b3,"polygon",{points:(x+w)+","+(y-h)+" "+(x+w+dd)+","+(y-h-dd)+" "+(x+w+dd)+","+(y-dd)+" "+(x+w)+","+y,fill:col,stroke:"#333","stroke-width":1,opacity:0.8});
 el(b3,"rect",{x:x,y:y-h,width:w,height:h,fill:col,stroke:"#333","stroke-width":1});}}
})();
</script>
</body></html>
